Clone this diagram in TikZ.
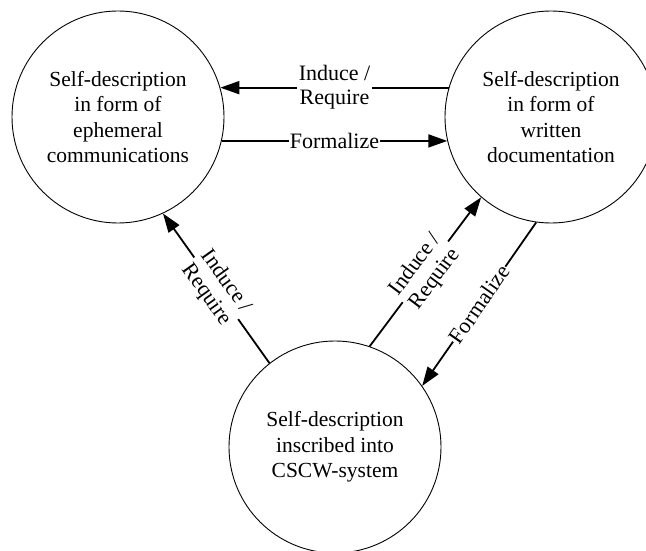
\documentclass[tikz,border=0pt]{standalone}
\usepackage{fontspec}
\setmainfont{Liberation Serif}
\usetikzlibrary{arrows.meta}
\begin{document}
\begin{tikzpicture}[x=1pt,y=-1pt,
  state/.style={circle,draw,line width=0.9pt,minimum size=212pt,inner sep=0pt,
    align=center,font=\fontsize{21.5}{25.3}\selectfont},
  flow/.style={line width=1.8pt,-{Triangle[length=19pt,width=13pt]}},
  tag/.style={fill=white,inner sep=2pt,align=center,
    font=\fontsize{22}{24}\selectfont}]
\useasboundingbox (0,0) rectangle (646,551);

% the three forms of self-description
\node[state] (eph) at (118,117) {Self-description\\in form of\\ephemeral\\communications};
\node[state] (doc) at (551,117) {Self-description\\in form of\\written\\documentation};
\node[state] (sys) at (335,447) {Self-description\\inscribed into\\CSCW-system};

% relations between them
\draw[flow] (doc.164) -- node[tag] {Induce /\\Require} (eph.16);
\draw[flow] (eph.-13.5) -- node[tag,inner sep=1pt] {Formalize} (doc.193.5);
\draw[flow] (sys.128) -- node[tag,sloped] {Induce /\\Require} (eph.-65);
\draw[flow] (sys.71) -- node[tag,sloped] {Induce /\\Require} (doc.229);
\draw[flow] (doc.262) -- node[tag,sloped,inner sep=1pt] {Formalize} (sys.35);
\end{tikzpicture}
\end{document}
